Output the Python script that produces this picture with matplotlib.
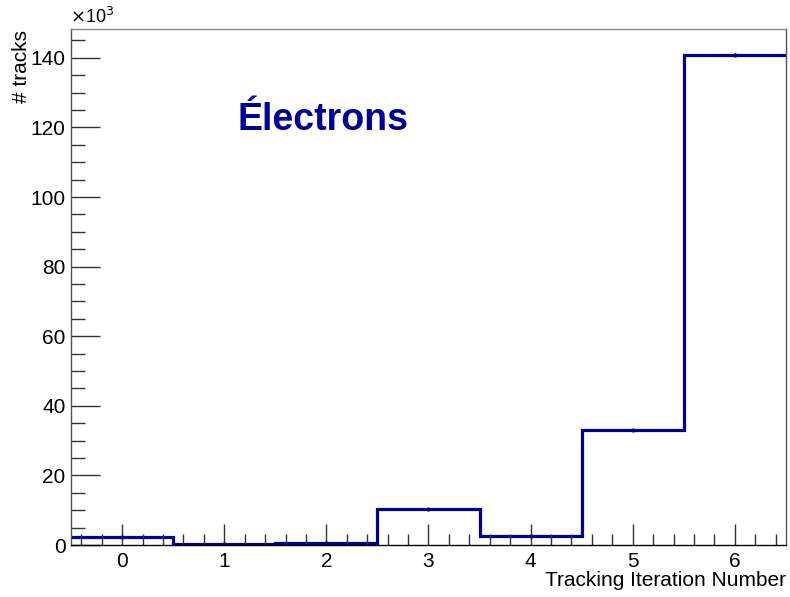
import numpy as np
import matplotlib
matplotlib.use("Agg")
import matplotlib.pyplot as plt
from matplotlib.ticker import MultipleLocator

plt.rcParams['font.family'] = ['Liberation Sans', 'DejaVu Sans']

iterations = [0, 1, 2, 3, 4, 5, 6]
tracks_k = [2.2, 0.3, 0.6, 10.4, 2.7, 33.1, 140.9]  # in units of 10^3
x_tick_labels = ["0", "1", "2", "3", "4", "5", "6"]
y_tick_values = [0, 20, 40, 60, 80, 100, 120, 140]

line_color = "#000099"

fig = plt.figure(figsize=(7.9, 5.97), dpi=100)
ax = fig.add_axes([0.0899, 0.0871, 0.9949 - 0.0899, 0.9514 - 0.0871])

x = np.array(iterations, dtype=float)
y = np.array(tracks_k)
edges = np.concatenate([x - 0.5, [x[-1] + 0.5]])
ax.stairs(y, edges, color=line_color, linewidth=2.3, baseline=None)
err = np.sqrt(y * 1000.0) / 1000.0
ax.errorbar(x, y, yerr=err, fmt='o', ms=2, color=line_color, elinewidth=1, capsize=0)

ax.set_xlim(-0.5, 6.5)
ax.set_ylim(0, 148.3)

ax.set_xticks(iterations)
ax.set_xticklabels(x_tick_labels)
ax.set_yticks(y_tick_values)
ax.xaxis.set_minor_locator(MultipleLocator(0.2))
ax.yaxis.set_minor_locator(MultipleLocator(5))

ax.tick_params(which='both', direction='in', top=False, right=False, labelsize=15, color='#333333')
ax.tick_params(axis='x', which='major', length=15, width=1, pad=5)
ax.tick_params(axis='x', which='minor', length=8, width=1)
ax.tick_params(axis='y', which='major', length=21, width=1, pad=4)
ax.tick_params(axis='y', which='minor', length=10, width=1)

for s in ax.spines.values():
    s.set_color('#555555')
    s.set_linewidth(1)
ax.spines['bottom'].set_color('black')
ax.spines['top'].set_color('#888888')

fig.text(0.0885, 0.972, r"$\times$10$^{3}$", fontsize=13, ha='left', va='center')
fig.text(0.027, 0.9497, "# tracks", fontsize=15, rotation=90, ha='center', va='top')
fig.text(0.995, 0.028, "Tracking Iteration Number", fontsize=15, ha='right', va='center')

ax.text(0.3525, 0.804, "Électrons", transform=ax.transAxes, fontsize=27,
        fontweight='bold', color=line_color, ha='center', va='baseline')

fig.savefig("out.png", dpi=100, facecolor='white')
